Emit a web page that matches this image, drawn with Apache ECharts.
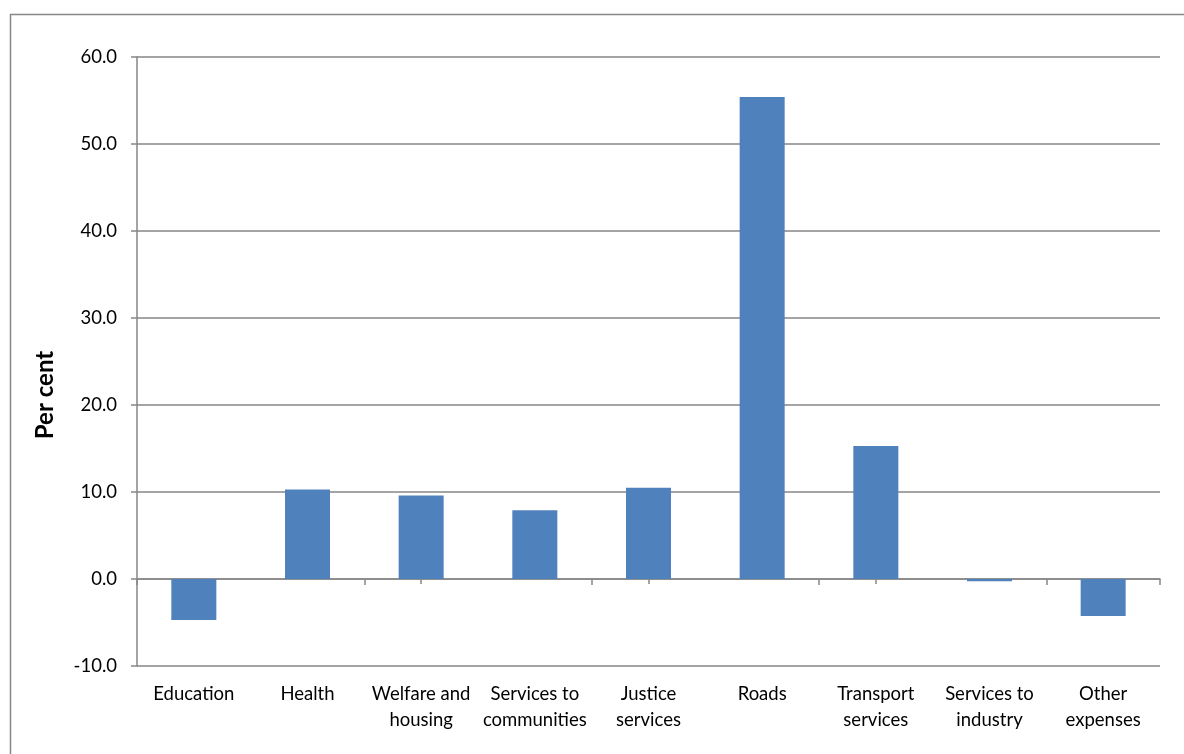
<!DOCTYPE html>
<html>
<head>
<meta charset="utf-8">
<script src="https://cdn.jsdelivr.net/npm/echarts@6/dist/echarts.min.js"></script>
<style>
html,body{margin:0;padding:0;background:#fff;}
#chart{width:1184px;height:754px;}
</style>
</head>
<body>
<div id="chart"></div>
<script>
var categories = ['Education','Health','Welfare and housing','Services to communities','Justice services','Roads','Transport services','Services to industry','Other expenses'];
var tickLabels = ['Education','Health','Welfare and\nhousing','Services to\ncommunities','Justice\nservices','Roads','Transport\nservices','Services to\nindustry','Other\nexpenses'];
var values = [-4.7, 10.3, 9.6, 7.9, 10.5, 55.4, 15.3, -0.25, -4.25];
var yTitle = 'Per cent';

var FONT = 'Lato, "Open Sans", sans-serif';
var GRAY = '#868686';
var GRID_TOP = 57, GRID_BOTTOM = 88, Y_MIN = -10, Y_MAX = 60;
var chart = echarts.init(document.getElementById('chart'));
var labelMap = {};
categories.forEach(function(c,i){ labelMap[c] = tickLabels[i]; });
var plotH = 754 - GRID_TOP - GRID_BOTTOM;
var zeroOffset = plotH * Y_MAX / (Y_MAX - Y_MIN);

chart.setOption({
  animation: false,
  backgroundColor: '#fff',
  grid: {left: 137, top: GRID_TOP, right: 24, bottom: GRID_BOTTOM, containLabel: false, outerBoundsMode: 'none'},
  graphic: [
    {type:'rect', shape:{x:10.5, y:14.5, width:1300, height:900}, style:{fill:'none', stroke:'#878787', lineWidth:1.5}, silent:true, z:-10},
    {type:'text', x:45, y:395, rotation: Math.PI/2, style:{text: yTitle, font:'bold 24px ' + FONT, fill:'#000', textAlign:'center', textVerticalAlign:'middle'}}
  ],
  xAxis: [
    {
      type:'category', data: categories, position:'bottom',
      axisLine:{show:false, onZero:false},
      axisTick:{show:false},
      axisLabel:{margin:15, color:'#000', fontFamily:FONT, fontSize:18.5, lineHeight:26, interval:0,
        formatter:function(v){ return labelMap[v]; }},
      splitLine:{show:false}
    },
    {
      type:'category', data: categories, position:'top', offset: -zeroOffset,
      axisLine:{show:true, onZero:false, lineStyle:{color:GRAY, width:1.5}},
      axisTick:{show:true, inside:true, alignWithLabel:false, length:6, lineStyle:{color:GRAY, width:1.5}},
      axisLabel:{show:false},
      splitLine:{show:false}
    },
    {
      type:'category', data: categories, position:'top', offset: -zeroOffset,
      axisLine:{show:false, onZero:false},
      axisTick:{show:true, inside:true, alignWithLabel:true, length:5, lineStyle:{color:GRAY, width:1.5}},
      axisLabel:{show:false},
      splitLine:{show:false}
    }
  ],
  yAxis: {
    type:'value', min:Y_MIN, max:Y_MAX, interval:10,
    axisLine:{show:true, onZero:false, lineStyle:{color:GRAY, width:1.5}},
    axisTick:{show:true, length:6, lineStyle:{color:GRAY, width:1.5}},
    axisLabel:{margin:20, color:'#000', fontFamily:FONT, fontSize:18.5, formatter:function(v){return v.toFixed(1);}},
    splitLine:{show:true, lineStyle:{color:GRAY, width:1.5}}
  },
  series: [{
    type:'bar', data: values, barWidth: 45, xAxisIndex:0,
    itemStyle:{color:'#4F81BD'}, z:1
  }]
});
</script>
</body>
</html>
